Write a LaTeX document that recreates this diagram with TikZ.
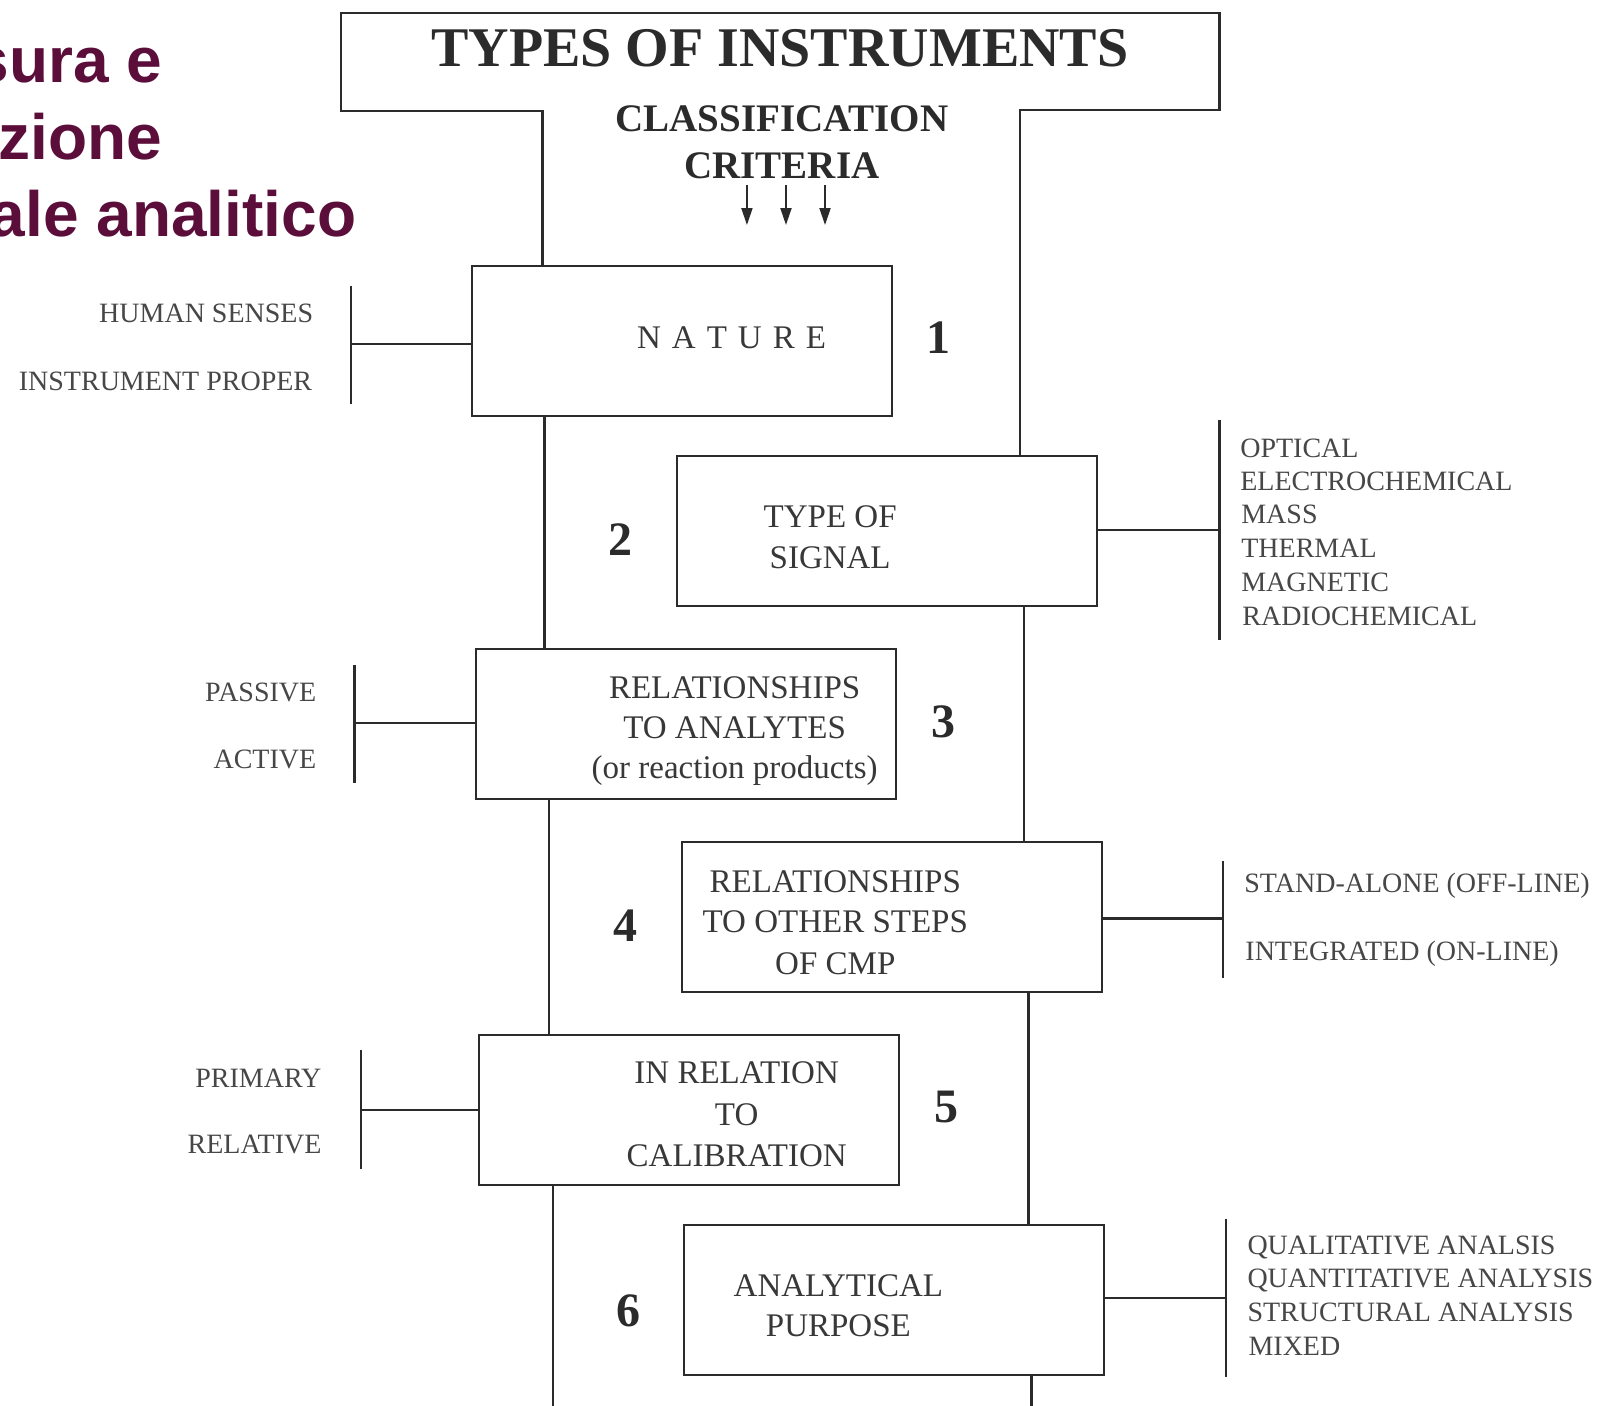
\documentclass[tikz,border=0pt]{standalone}
\usepackage{fontspec}
\setmainfont{Liberation Serif}
\newfontfamily\headsans{Liberation Sans}
\usetikzlibrary{arrows.meta}
\definecolor{ink}{HTML}{2B2B2B}
\definecolor{txt}{HTML}{383838}
\definecolor{lbl}{HTML}{474747}
\definecolor{plum}{HTML}{5B0E3A}

\begin{document}
\begin{tikzpicture}[x=1.0274pt,y=-1.0274pt,
  line/.style={draw=ink,line width=2.2pt,line join=miter},
  crit/.style={draw=ink,line width=2.2pt,minimum width=420pt,minimum height=150pt,inner sep=0pt},
  boxtext/.style={text=txt,font=\fontsize{33}{40}\selectfont,inner sep=0pt,anchor=base},
  num/.style={text=ink,font=\fontsize{48}{48}\selectfont\bfseries,inner sep=0pt,anchor=base},
  leftlbl/.style={text=lbl,font=\fontsize{28}{28}\selectfont,inner sep=0pt,anchor=base east},
  rightlbl/.style={text=lbl,font=\fontsize{28}{28}\selectfont,inner sep=0pt,anchor=base west},
  headline/.style={text=plum,font=\headsans\fontsize{64}{64}\selectfont\bfseries,inner sep=0pt,anchor=base east},
  down/.style={draw=ink,line width=2pt,-{Triangle[length=17pt,width=11pt]}}
]
\useasboundingbox[fill=white] (0,0) rectangle (1568,1368);

% heading at the left edge
\node[headline] (h1) at (158,80) {sura e};
\node[headline] (h2) at (158,155) {zione};
\node[headline] (h3) at (347,230) {ale analitico};

% title block
\node[text=ink,font=\fontsize{56}{56}\selectfont\bfseries,inner sep=0pt,anchor=base] (title) at (759,65) {TYPES OF INSTRUMENTS};
\node[text=ink,font=\fontsize{39}{39}\selectfont\bfseries,inner sep=0pt,anchor=base] (cls) at (761,128) {CLASSIFICATION};
\node[text=ink,font=\fontsize{39}{39}\selectfont\bfseries,inner sep=0pt,anchor=base] (crt) at (761,174) {CRITERIA};

\coordinate (a1s) at (727,180); \coordinate (a1e) at (727,219);
\coordinate (a2s) at (765,180); \coordinate (a2e) at (765,219);
\coordinate (a3s) at (803,180); \coordinate (a3e) at (803,219);
\draw[down] (a1s) -- (a1e);
\draw[down] (a2s) -- (a2e);
\draw[down] (a3s) -- (a3e);

% criteria boxes
\node[crit] (b1) at (663.5,332) {};
\node[crit] (b2) at (863.5,516.5) {};
\node[crit] (b3) at (667.5,704.5) {};
\node[crit] (b4) at (868.5,892.5) {};
\node[crit] (b5) at (670.5,1080.5) {};
\node[crit] (b6) at (870.5,1265.5) {};

% box captions
\node[boxtext] (t1) at (712,339) {N\kern11pt A\kern11pt T\kern11pt U\kern11pt R\kern11pt E};
\node[boxtext] (t2a) at (808,513) {TYPE OF};
\node[boxtext] (t2b) at (808,553) {SIGNAL};
\node[boxtext] (t3a) at (715,680) {RELATIONSHIPS};
\node[boxtext] (t3b) at (715,719) {TO ANALYTES};
\node[boxtext] (t3c) at (715,758) {(or reaction products)};
\node[boxtext] (t4a) at (813,869) {RELATIONSHIPS};
\node[boxtext] (t4b) at (813,908) {TO OTHER STEPS};
\node[boxtext] (t4c) at (813,948) {OF CMP};
\node[boxtext] (t5a) at (717,1055) {IN RELATION};
\node[boxtext] (t5b) at (717,1095) {TO};
\node[boxtext] (t5c) at (717,1135) {CALIBRATION};
\node[boxtext] (t6a) at (816,1262) {ANALYTICAL};
\node[boxtext] (t6b) at (816,1301) {PURPOSE};

% criterion numbers
\node[num] (n1) at (913,344) {1};
\node[num] (n2) at (604,541) {2};
\node[num] (n3) at (918,718) {3};
\node[num] (n4) at (609,916) {4};
\node[num] (n5) at (921,1093) {5};
\node[num] (n6) at (612,1291) {6};

% outline of the T and its two stems
\coordinate (s1) at (528,0);   \coordinate (s2) at (530,0);
\coordinate (s3) at (534,0);   \coordinate (s4) at (538,0);
\coordinate (r1) at (993,0);   \coordinate (r2) at (997,0);
\coordinate (r3) at (1001,0);  \coordinate (r4) at (1004,0);
\coordinate (floor) at (0,1368);
\coordinate (tl) at (332,13);  \coordinate (tr) at (1187,13);
\coordinate (nl) at (332,108); \coordinate (nr) at (1187,107);

\draw[line] (b1.north -| s1) -- (s1 |- nl) -- (nl) -- (tl) -- (tr) -- (nr) -- (r1 |- nr) -- (b2.north -| r1);
\draw[line] (b1.south -| s2) -- (b3.north -| s2);
\draw[line] (b3.south -| s3) -- (b5.north -| s3);
\draw[line] (b5.south -| s4) -- (s4 |- floor);
\draw[line] (b2.south -| r2) -- (b4.north -| r2);
\draw[line] (b4.south -| r3) -- (b6.north -| r3);
\draw[line] (b6.south -| r4) -- (r4 |- floor);

% brackets to the left
\coordinate (k1) at (342,335); \coordinate (k1a) at (342,278); \coordinate (k1b) at (342,393);
\coordinate (k3) at (345,704); \coordinate (k3a) at (345,647); \coordinate (k3b) at (345,762);
\coordinate (k5) at (351,1080); \coordinate (k5a) at (351,1022); \coordinate (k5b) at (351,1138);
\draw[line] (k1a) -- (k1b);  \draw[line] (k1) -- (k1 -| b1.west);
\draw[line] (k3a) -- (k3b);  \draw[line] (k3) -- (k3 -| b3.west);
\draw[line] (k5a) -- (k5b);  \draw[line] (k5) -- (k5 -| b5.west);

% brackets to the right
\coordinate (k2) at (1187,516); \coordinate (k2a) at (1187,409); \coordinate (k2b) at (1187,623);
\coordinate (k4) at (1190,894); \coordinate (k4a) at (1190,838); \coordinate (k4b) at (1190,952);
\coordinate (k6) at (1193,1263); \coordinate (k6a) at (1193,1186); \coordinate (k6b) at (1193,1340);
\draw[line] (k2a) -- (k2b);  \draw[line] (b2.east |- k2) -- (k2);
\draw[line] (k4a) -- (k4b);  \draw[line] (b4.east |- k4) -- (k4);
\draw[line] (k6a) -- (k6b);  \draw[line] (b6.east |- k6) -- (k6);

% left-hand classes
\node[leftlbl] (l1a) at (305,314) {HUMAN SENSES};
\node[leftlbl] (l1b) at (304,380) {INSTRUMENT PROPER};
\node[leftlbl] (l3a) at (308,683) {PASSIVE};
\node[leftlbl] (l3b) at (308,748) {ACTIVE};
\node[leftlbl] (l5a) at (313,1058) {PRIMARY};
\node[leftlbl] (l5b) at (313,1123) {RELATIVE};

% right-hand classes
\node[rightlbl] (r2a) at (1207,445) {OPTICAL};
\node[rightlbl] (r2b) at (1207,477) {ELECTROCHEMICAL};
\node[rightlbl] (r2c) at (1208,510) {MASS};
\node[rightlbl] (r2d) at (1208,543) {THERMAL};
\node[rightlbl] (r2e) at (1208,576) {MAGNETIC};
\node[rightlbl] (r2f) at (1209,609) {RADIOCHEMICAL};
\node[rightlbl] (r4a) at (1211,869) {STAND-ALONE (OFF-LINE)};
\node[rightlbl] (r4b) at (1212,935) {INTEGRATED (ON-LINE)};
\node[rightlbl] (r6a) at (1214,1221) {QUALITATIVE ANALSIS};
\node[rightlbl] (r6b) at (1214,1253) {QUANTITATIVE ANALYSIS};
\node[rightlbl] (r6c) at (1214,1286) {STRUCTURAL ANALYSIS};
\node[rightlbl] (r6d) at (1215,1319) {MIXED};
\end{tikzpicture}
\end{document}
